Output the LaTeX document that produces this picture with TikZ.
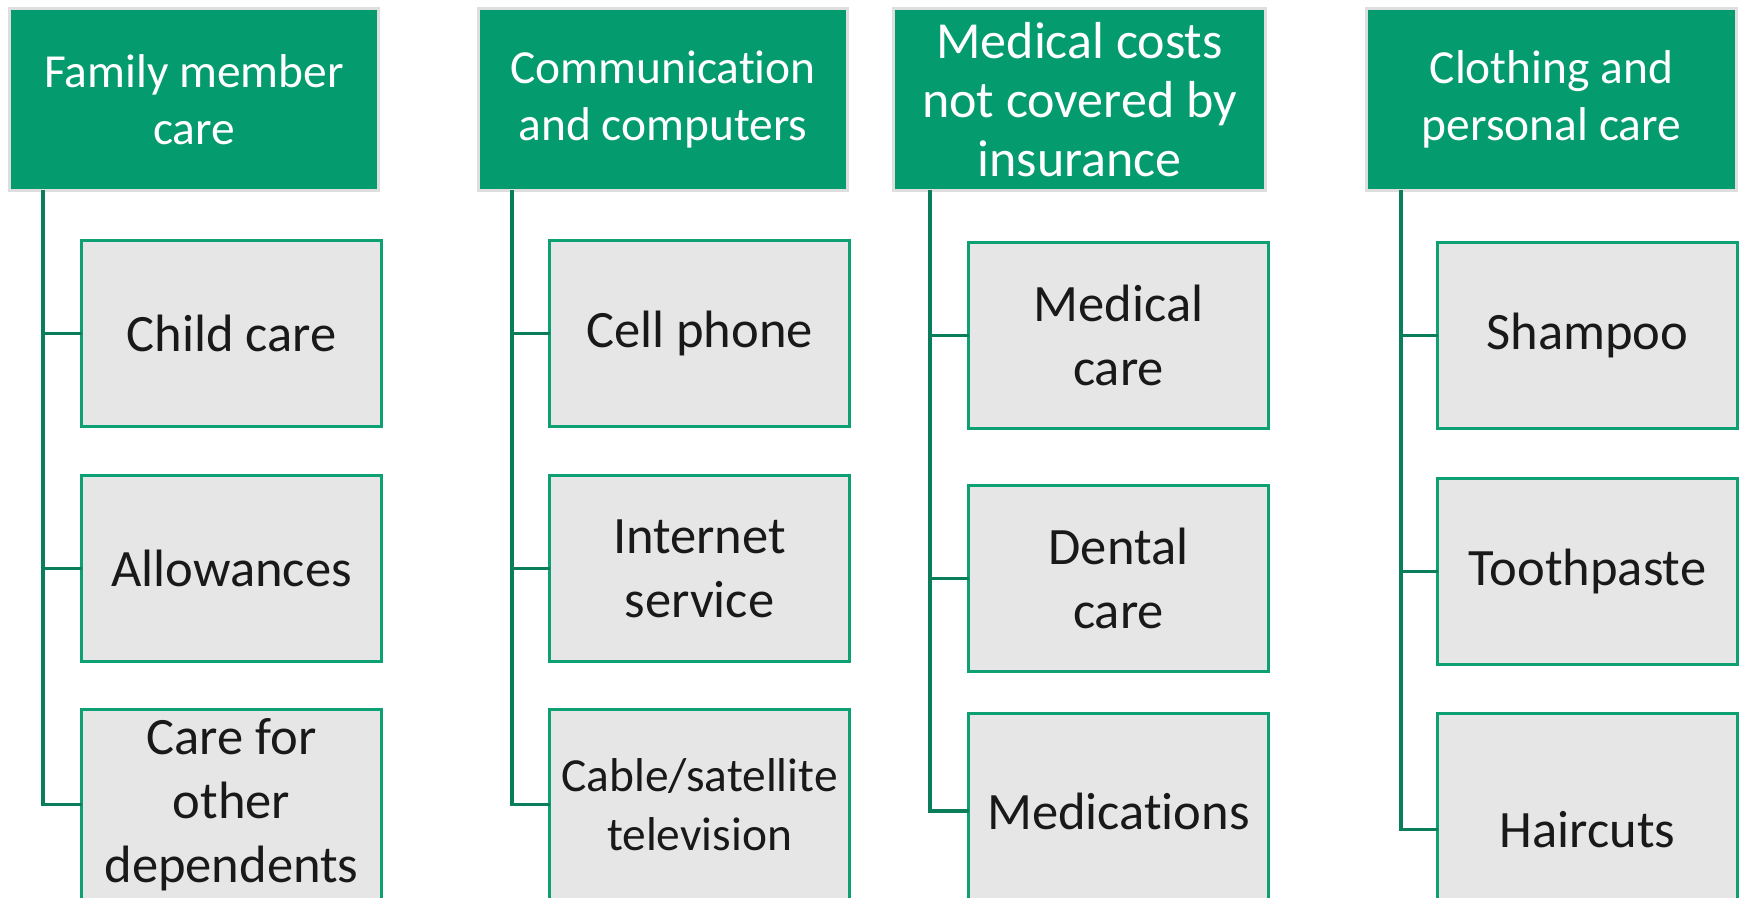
\documentclass[tikz,border=0pt]{standalone}
\usepackage{fontspec}
\setmainfont{Carlito}[Ligatures=NoCommon]
\usetikzlibrary{positioning}
\definecolor{headgreen}{HTML}{049C6E}
\definecolor{boxgreen}{HTML}{0DA072}
\definecolor{linegreen}{HTML}{0A7D5B}
\definecolor{headrim}{HTML}{DEDEDE}
\definecolor{boxgray}{HTML}{E6E6E6}
\tikzset{
    group head/.style = {
        draw = headrim,
        line width = 1.7pt,
        fill = headgreen,
        text = white,
        minimum width = 7.38cm,
        minimum height = 3.64cm,
        text width = 7cm,
        align = flush center,
        outer sep = 0pt,
        font = \fontsize{27}{32.4}\selectfont,
        },
    item box/.style = {
        draw = boxgreen,
        line width = 1.9pt,
        fill = boxgray,
        text = black!90,
        minimum width = 6cm,
        minimum height = 3.72cm,
        text width = 5.7cm,
        inner sep = 2pt,
        align = flush center,
        outer sep = 0pt,
        font = \fontsize{29.9}{36.4}\selectfont,
        },
    branch/.style = {
        draw = linegreen,
        line width = 2pt,
        },
}
\begin{document}
\begin{tikzpicture}
            \useasboundingbox (0,0) rectangle (34.8,-17.96);

            % the four spending groups
            \node[group head, anchor=north west] (family) at (0.19,-0.17) {Family member\\care};
            \node[group head, right=2cm of family] (comm) {Communication\\and computers};
            \node[group head, right=0.92cm of comm, minimum width=7.44cm,
                  font=\fontsize{29.6}{33.6}\selectfont] (medical) {Medical costs\\not covered by\\insurance};
            \node[group head, right=2.02cm of medical, minimum width=7.4cm] (cloth) {Clothing and\\personal care};

            % items under each group
            \node[item box, below right=1.0cm and 1.44cm of family.south west] (child) {Child care};
            \node[item box, below=0.98cm of child] (allow) {Allowances};
            \node[item box, below=0.96cm of allow, minimum height=3.8cm] (depend) {Care for\\other\\dependents};

            \node[item box, below right=1.0cm and 1.42cm of comm.south west] (cell) {Cell phone};
            \node[item box, below=0.98cm of cell] (net) {Internet\\service};
            \node[item box, below=0.96cm of net, minimum height=3.8cm,
                  font=\fontsize{27}{33.6}\selectfont] (cable) {Cable/satellite\\television};

            \node[item box, below right=1.04cm and 1.5cm of medical.south west] (medcare) {Medical\\care};
            \node[item box, below=1.14cm of medcare] (dental) {Dental\\care};
            \node[item box, below=0.84cm of dental, minimum height=3.9cm] (meds) {Medications};

            \node[item box, below right=1.04cm and 1.42cm of cloth.south west] (shampoo) {Shampoo};
            \node[item box, below=1.0cm of shampoo] (paste) {Toothpaste};
            \node[item box, below=0.98cm of paste, minimum height=4.64cm] (hair) {Haircuts};

            % tree lines
            \draw[branch] (family.south west) ++(0.67,0) |- (child.west);
            \draw[branch] (family.south west) ++(0.67,0) |- (allow.west);
            \draw[branch] (family.south west) ++(0.67,0) |- (depend.west);
            \draw[branch] (comm.south west) ++(0.67,0) |- (cell.west);
            \draw[branch] (comm.south west) ++(0.67,0) |- (net.west);
            \draw[branch] (comm.south west) ++(0.67,0) |- (cable.west);
            \draw[branch] (medical.south west) ++(0.73,0) |- (medcare.west);
            \draw[branch] (medical.south west) ++(0.73,0) |- (dental.west);
            \draw[branch] (medical.south west) ++(0.73,0) |- (meds.west);
            \draw[branch] (cloth.south west) ++(0.69,0) |- (shampoo.west);
            \draw[branch] (cloth.south west) ++(0.69,0) |- (paste.west);
            \draw[branch] (cloth.south west) ++(0.69,0) |- (hair.west);
        \end{tikzpicture}
\end{document}
